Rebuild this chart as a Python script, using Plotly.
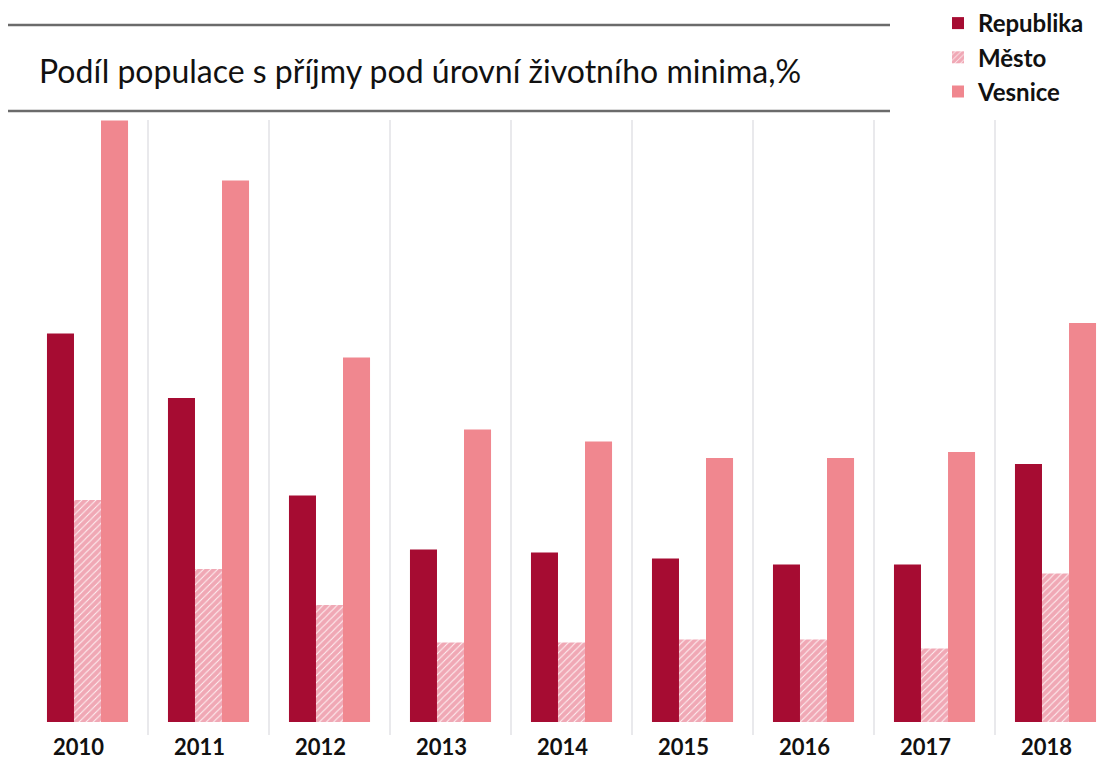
import plotly.graph_objects as go

years = ["2010", "2011", "2012", "2013", "2014", "2015", "2016", "2017", "2018"]
series_names = ["Republika", "Město", "Vesnice"]
republika = [25.9, 21.6, 15.1, 11.5, 11.3, 10.9, 10.5, 10.5, 17.2]
mesto = [14.8, 10.2, 7.8, 5.3, 5.3, 5.5, 5.5, 4.9, 9.9]
vesnice = [40.1, 36.1, 24.3, 19.5, 18.7, 17.6, 17.6, 18.0, 26.6]
title_text = "Podíl populace s příjmy pod úrovní životního minima,%"

W, H = 1101, 760
ml, mr, mt, mb = 27, 0, 120, 25
pw, ph = W - ml - mr, H - mt - mb

def px(x):
    return (x - ml) / pw

def py(y):
    return (H - mb - y) / ph

C_REP = "#a60c32"
C_VES = "#f0878f"
C_MES = "#e45f78"

fig = go.Figure()
fig.add_trace(go.Bar(x=years, y=republika, name=series_names[0],
                     marker=dict(color=C_REP, line=dict(width=0))))
fig.add_trace(go.Bar(x=years, y=mesto, name=series_names[1],
                     marker=dict(color="white", line=dict(width=0),
                                 pattern=dict(shape="/", fgcolor=C_MES, bgcolor="#fdf1f3",
                                              size=5, solidity=0.8, fillmode="overlay"))))
fig.add_trace(go.Bar(x=years, y=vesnice, name=series_names[2],
                     marker=dict(color=C_VES, line=dict(width=0))))

font_family = "Lato, 'Open Sans', sans-serif"

fig.update_layout(
    width=W, height=H,
    margin=dict(l=ml, r=mr, t=mt, b=mb, pad=0, autoexpand=False),
    paper_bgcolor="white", plot_bgcolor="white",
    barmode="group", bargap=0.33, bargroupgap=0,
    font=dict(family=font_family, color="#111111"),
    showlegend=True,
    legend=dict(x=px(938), y=py(1), xanchor="left", yanchor="top",
                font=dict(family=font_family, size=24, color="#111111", weight="bold"),
                bgcolor="rgba(255,255,255,0)", itemwidth=30,
                traceorder="normal"),
    xaxis=dict(type="category", range=[-0.5, 8.376], tickson="boundaries",
               showgrid=True, gridcolor="#e9e9ec", gridwidth=2,
               ticks="", showline=False, zeroline=False, automargin=False,
               ticklabelshift=-9, ticklabelstandoff=-3,
               tickfont=dict(family=font_family, size=22, color="#111111", weight="bold")),
    yaxis=dict(range=[-0.867, 40.13], visible=False, showgrid=False, zeroline=False,
               automargin=False),
    annotations=[
        dict(text=title_text, xref="paper", yref="paper", x=px(37), y=py(70),
             xanchor="left", yanchor="middle", showarrow=False,
             font=dict(family=font_family, size=32, color="#111111")),
    ],
    shapes=[
        dict(type="line", xref="paper", yref="paper", x0=px(8), x1=px(890),
             y0=py(25), y1=py(25), line=dict(color="#6b6b6b", width=2.5)),
        dict(type="line", xref="paper", yref="paper", x0=px(8), x1=px(890),
             y0=py(111), y1=py(111), line=dict(color="#6b6b6b", width=2.5)),
    ],
)

fig.write_html("out.html", config={"displayModeBar": False},
               post_script="document.body.style.margin='0';document.body.style.padding='0';")
